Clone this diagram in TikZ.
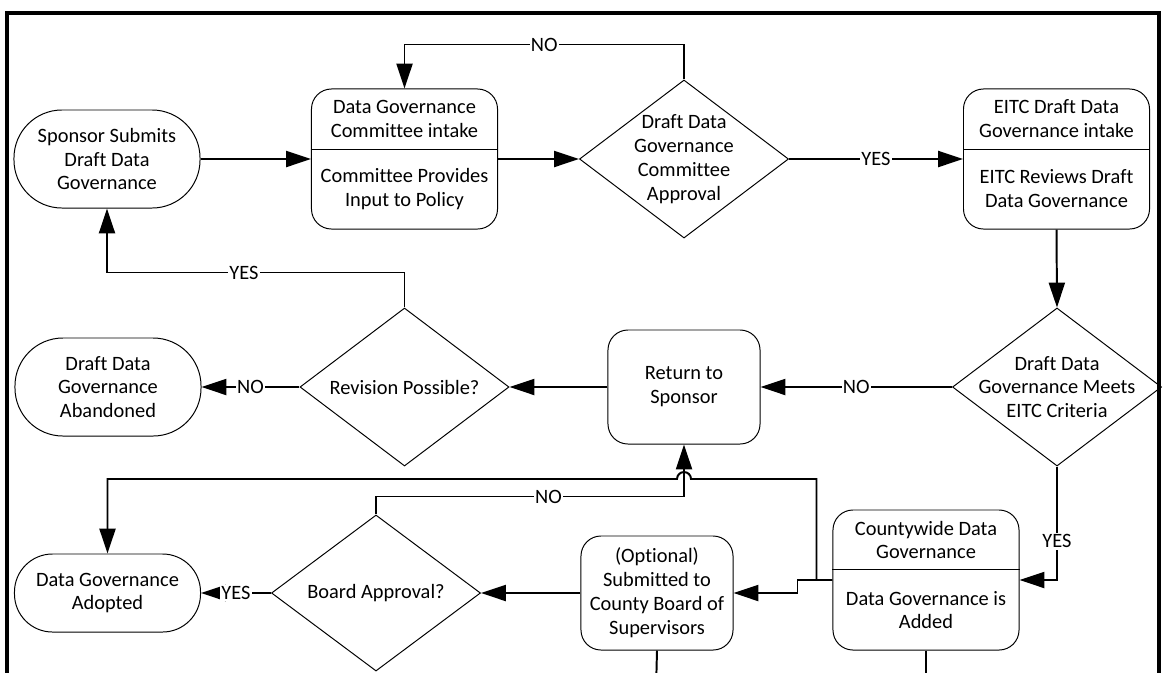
\documentclass[tikz,border=0pt]{standalone}
\usepackage{fontspec}
\setmainfont{Carlito}[Ligatures={NoCommon}]
\usepackage{tikz}
\usetikzlibrary{shapes.geometric, arrows.meta}

\begin{document}
\begin{tikzpicture}[x=0.025cm, y=-0.025cm,
  font=\fontsize{14.5}{17}\selectfont,
  >={Triangle[length=0.62cm,width=0.4cm]},
  term/.style={draw, line width=0.7pt, rectangle, rounded corners=1.2cm, minimum width=4.65cm, minimum height=2.45cm, align=center, inner sep=0pt},
  proc/.style={draw, line width=0.7pt, rectangle, rounded corners=0.5cm, minimum width=4.65cm, minimum height=3.5cm, inner sep=0pt},
  sproc/.style={draw, line width=0.7pt, rectangle, rounded corners=0.5cm, minimum width=3.8cm, minimum height=2.85cm, align=center, inner sep=0pt},
  decision/.style={draw, line width=0.7pt, diamond, minimum width=5.225cm, minimum height=3.95cm, inner sep=0pt},
  txt/.style={align=center, inner sep=0pt},
  conn/.style={line width=1.4pt, ->},
  yn/.style={fill=white, inner sep=1pt}]

\path[use as bounding box, clip] (0,0) rectangle (1168,672);
\draw[line width=2.9pt] (7,13) rectangle (1159,700);

% top row
\node[term] (sponsor) at (107,159) {Sponsor Submits\\Draft Data\\Governance};
\node[proc] (dgc) at (404.5,159) {};
\node[txt] (dgcT) at (404.5,119) {Data Governance\\Committee intake};
\node[txt] (dgcB) at (404.5,189) {Committee Provides\\Input to Policy};
\draw[line width=0.7pt] (dgc.west |- 0,149) -- (dgc.east |- 0,149);
\node[decision] (dgca) at (684,159) {};
\node[txt] (dgcaT) at (dgca) {Draft Data\\Governance\\Committee\\Approval};
\node[proc] (eitc) at (1056.5,159) {};
\node[txt] (eitcT) at (1056.5,119) {EITC Draft Data\\Governance intake};
\node[txt] (eitcB) at (1056.5,189) {EITC Reviews Draft\\Data Governance};
\draw[line width=0.7pt] (eitc.west |- 0,149) -- (eitc.east |- 0,149);

% middle row
\node[term] (aband) at (108,387) {Draft Data\\Governance\\Abandoned};
\node[decision] (rev) at (404.5,387) {};
\node[txt] (revT) at (rev) {Revision Possible?};
\node[sproc] (ret) at (684,387) {Return to\\Sponsor};
\node[decision] (crit) at (1057,387) {};
\node[txt] (critT) at (crit) {Draft Data\\Governance Meets\\EITC Criteria};

% bottom row
\node[term, minimum height=1.95cm, rounded corners=0.95cm] (adopted) at (107.5,593) {Data Governance\\Adopted};
\node[decision, minimum height=3.9cm] (board) at (376,593) {};
\node[txt] (boardT) at (board) {Board Approval?};
\node[sproc] (opt) at (657,593) {(Optional)\\Submitted to\\County Board of\\Supervisors};
\node[proc] (cw) at (926,580) {};
\node[txt] (cwT) at (926,540) {Countywide Data\\Governance};
\node[txt] (cwB) at (926,610) {Data Governance is\\Added};
\draw[line width=0.7pt] (cw.west |- 0,569) -- (cw.east |- 0,569);
\coordinate (optout) at (656,690);
\coordinate (cwout) at (926,690);

% connectors
\draw[conn] (sponsor) -- (dgc);
\draw[conn] (dgc) -- (dgca);
\draw[conn] (dgca) -- node[yn]{YES} (eitc);
\draw[conn] (dgca.north) -- ++(0,-35) -| node[yn, pos=0.25]{NO} (dgc.north);
\draw[conn] (eitc.south) -- (crit.north);
\draw[conn] (crit) -- node[yn]{NO} (ret);
\draw[conn] (ret) -- (rev);
\draw[conn] (rev) -- node[yn]{NO} (aband);
\draw[conn] (rev.north) -- ++(0,-35) -| node[yn, pos=0.27]{YES} (sponsor.south);
\draw[conn] (crit.south) |- node[yn, pos=0.33]{YES} (cw.east);
\draw[conn] (cw.west) -- ++(-35,0) |- (opt.east);
\draw[conn] (cw.west) -- ++(-16,0) -- ++(0,-101) -- (691,479) arc[start angle=0, end angle=-180, radius=7] -| (adopted.north);
\draw[conn] (opt) -- (board);
\draw[conn] (board) -- node[yn]{YES} (adopted);
\draw[conn] (board.north) -- ++(0,-18) -| node[yn, pos=0.28]{NO} (ret.south);
\draw[line width=1.4pt] (opt.south) -- (optout);
\draw[line width=1.4pt] (cw.south) -- (cwout);
\end{tikzpicture}
\end{document}
